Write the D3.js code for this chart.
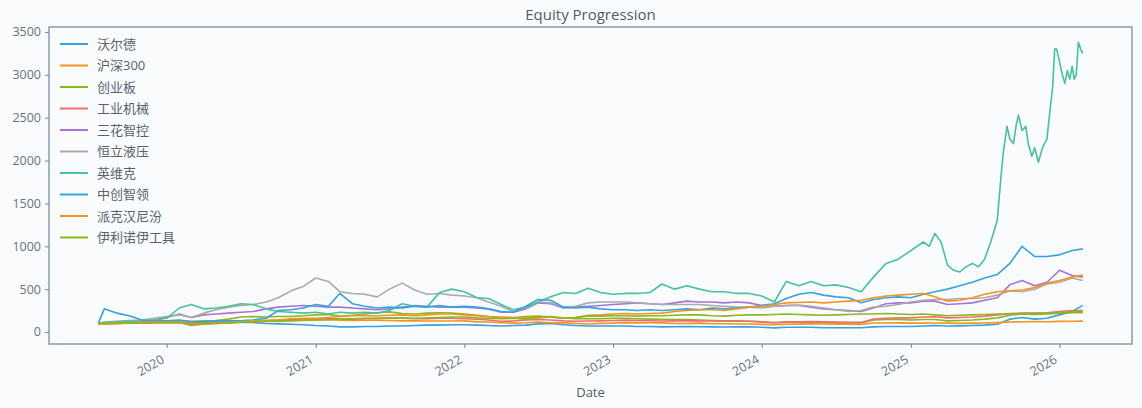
<!DOCTYPE html>
<html><head><meta charset="utf-8">
<script src="https://cdn.jsdelivr.net/npm/d3@7"></script>
<style>
body{margin:0;background:#fafbfc;}
text{font-family:"Open Sans","Noto Sans CJK SC",sans-serif;}
</style>
</head><body>
<svg id="chart" width="1142" height="408"></svg>
<script>
// ---------- DATA ----------
const seriesNames = ["沃尔德","沪深300","创业板","工业机械","三花智控","恒立液压","英维克","中创智领","派克汉尼汾","伊利诺伊工具"];
const seriesColors = ["#35a3dd","#f7931e","#8ab820","#f66b70","#a673d8","#aaaaaa","#47c29b","#35a3dd","#f7931e","#8ab820"];
const yTicks = [0,500,1000,1500,2000,2500,3000,3500];
const xTickYears = ["2020","2021","2022","2023","2024","2025","2026"];

const dates = ["2019-07-17","2019-08-01","2019-09-01","2019-10-01","2019-11-01","2019-12-01",
"2020-01-01","2020-02-01","2020-03-01","2020-04-01","2020-05-01","2020-06-01","2020-07-01","2020-08-01","2020-09-01","2020-10-01","2020-11-01","2020-12-01",
"2021-01-01","2021-02-01","2021-03-01","2021-04-01","2021-05-01","2021-06-01","2021-07-01","2021-08-01","2021-09-01","2021-10-01","2021-11-01","2021-12-01",
"2022-01-01","2022-02-01","2022-03-01","2022-04-01","2022-05-01","2022-06-01","2022-07-01","2022-08-01","2022-09-01","2022-10-01","2022-11-01","2022-12-01",
"2023-01-01","2023-02-01","2023-03-01","2023-04-01","2023-05-01","2023-06-01","2023-07-01","2023-08-01","2023-09-01","2023-10-01","2023-11-01","2023-12-01",
"2024-01-01","2024-02-01","2024-03-01","2024-04-01","2024-05-01","2024-06-01","2024-07-01","2024-08-01","2024-09-01","2024-10-01","2024-11-01","2024-12-01",
"2025-01-01","2025-02-01","2025-03-01","2025-04-01","2025-05-01","2025-06-01","2025-07-01","2025-08-01","2025-09-01","2025-10-01","2025-11-01","2025-12-01",
"2026-01-01","2026-02-01","2026-02-27"];

const wold = [100,105,110,105,110,115,
120,115,100,110,115,110,115,110,100,95,90,85,
75,70,60,60,65,65,70,70,75,80,80,85,
85,80,75,70,75,80,95,100,85,75,70,70,
70,70,65,65,60,62,65,62,60,58,60,62,
55,48,55,55,55,50,50,50,50,60,65,65,
65,70,75,70,72,75,80,90,150,170,150,160,
200,240,310];

const hs300 = [100,97,101,102,102,106,
108,105,97,100,103,105,120,124,122,124,129,135,
142,150,137,136,137,139,135,130,130,129,128,128,
130,118,116,108,103,108,116,108,107,99,94,101,
103,109,107,108,106,100,100,104,97,96,93,93,
89,84,90,92,95,94,92,91,88,105,105,106,
104,103,105,104,101,103,105,109,116,120,122,120,
124,126,127];

const chinext = [100,103,106,108,108,115,
120,135,125,132,135,150,175,180,175,180,180,190,
200,205,185,195,210,225,235,215,210,220,225,220,
210,195,180,160,165,180,185,175,165,155,155,155,
160,160,155,150,148,145,145,140,135,130,130,125,
118,105,115,115,115,110,108,105,105,140,145,145,
140,145,145,130,135,140,150,165,195,210,205,210,
220,225,225];

const machinery = [100,98,100,102,103,108,
112,115,105,110,112,118,130,135,135,140,145,150,
155,160,150,150,155,160,165,160,155,155,160,160,
155,148,140,125,128,140,145,140,130,125,128,130,
135,138,135,132,128,130,133,130,128,125,125,125,
118,110,118,120,122,118,115,112,112,150,160,165,
165,175,178,165,170,175,185,200,215,220,220,225,
240,250,250];

const sanhua = [100,105,110,115,120,140,
170,210,170,200,210,220,230,240,270,290,300,310,
300,290,290,280,270,260,270,290,310,300,290,290,
290,280,270,230,230,270,340,330,280,290,300,310,
320,330,340,330,320,340,360,350,350,340,350,340,
310,300,310,310,290,270,260,250,240,280,330,340,
340,360,360,320,330,340,370,400,550,600,540,580,
720,660,640];

const hengli = [100,115,125,135,140,160,
180,200,170,220,260,290,310,320,350,400,480,530,
630,590,470,450,440,410,500,570,490,440,450,430,
420,400,350,300,240,280,350,340,290,300,340,350,
350,350,340,330,320,320,320,320,310,300,290,290,
280,300,310,315,300,280,260,240,250,290,300,320,
350,370,380,380,390,390,400,430,480,470,500,560,
580,630,600];

// 英维克: monthly through 2024-12, then finer points
const yingweikeDates = dates.slice(0, 66).concat([
"2025-01-01","2025-01-16","2025-02-01","2025-02-15","2025-03-01","2025-03-16","2025-04-01","2025-04-16",
"2025-05-01","2025-05-16","2025-06-01","2025-06-16","2025-07-01","2025-07-16","2025-08-01","2025-08-10",
"2025-08-16","2025-08-25","2025-09-01","2025-09-10","2025-09-16","2025-09-22","2025-10-01","2025-10-10",
"2025-10-16","2025-10-25","2025-11-01","2025-11-10","2025-11-20","2025-12-01","2025-12-10","2025-12-15",
"2025-12-20","2025-12-25","2026-01-01","2026-01-08","2026-01-14","2026-01-20","2026-01-26","2026-02-01",
"2026-02-06","2026-02-11","2026-02-16","2026-02-22","2026-02-27"]);
const yingweike = [100,110,120,125,130,140,
160,280,320,270,280,300,330,320,270,240,230,220,
230,210,230,220,230,220,250,330,300,290,460,500,
470,400,390,320,260,290,350,410,460,450,510,460,
440,450,450,460,560,500,540,500,470,470,450,450,
420,350,590,540,590,540,550,520,470,640,800,850,
950,1000,1050,1000,1150,1050,780,720,
700,760,800,760,850,1050,1300,1800,
2100,2400,2250,2200,2400,2530,2350,2400,
2200,2050,2150,1980,2150,2250,2650,2850,
3300,3300,3150,3000,2900,3050,2950,3100,
2950,3000,3380,3300,3250];

const zhongchuang = [100,270,220,190,140,130,
130,140,120,120,130,130,130,140,160,250,260,280,
320,300,450,330,300,280,290,280,300,290,310,290,
300,290,270,240,230,300,380,370,290,280,290,270,
260,260,250,260,250,260,270,260,280,270,280,290,
310,330,390,440,460,430,410,400,340,380,400,410,
400,440,470,500,540,580,630,670,800,1000,880,880,
900,950,970];

const parker = [100,102,105,108,112,115,
120,110,75,90,100,110,120,130,135,140,155,160,
160,170,180,190,190,190,195,200,190,200,210,210,
200,190,180,175,170,165,175,180,160,170,195,200,
210,215,210,215,220,240,250,260,260,250,270,290,
300,320,340,345,350,340,350,360,370,400,420,430,
440,450,410,360,370,400,440,470,480,490,520,570,
600,640,665];

const itw = [100,98,100,105,110,113,
115,110,85,95,100,105,115,120,125,130,135,140,
140,140,150,155,160,160,160,165,160,165,170,175,
175,165,160,155,160,150,165,175,160,170,185,185,
190,190,185,190,190,195,200,200,190,185,195,200,
200,205,210,205,200,195,200,205,210,210,215,210,
205,210,200,190,195,200,205,210,210,215,215,220,
225,235,235];

const seriesValues = [wold,hs300,chinext,machinery,sanhua,hengli,yingweike,zhongchuang,parker,itw];
const seriesDates = [dates,dates,dates,dates,dates,dates,yingweikeDates,dates,dates,dates];

// ---------- CHART ----------
const W = 1142, H = 408;
const m = {left:49, top:27, right:1132, bottom:344};
const svg = d3.select("#chart");
svg.append("rect").attr("width",W).attr("height",H).attr("fill","#fafbfc");

const parse = d3.utcParse("%Y-%m-%d");
const allDates = dates.map(parse);
const [d0, d1] = d3.extent(allDates);
const pad = (d1 - d0) * 0.05;
const x = d3.scaleUtc().domain([new Date(+d0 - pad), new Date(+d1 + pad)]).range([m.left, m.right]);
const y = d3.scaleLinear().domain([-140, 3558]).range([m.bottom, m.top]);

const axisColor = "#7f8b99";
const tickText = "#66727f";

// lines
const line = d3.line().x(d => x(d[0])).y(d => y(d[1]));
const gLines = svg.append("g");
seriesNames.forEach((name, i) => {
  const pts = seriesValues[i].map((v, j) => [parse(seriesDates[i][j]), v]);
  gLines.append("path").datum(pts)
    .attr("d", line)
    .attr("fill","none")
    .attr("stroke", seriesColors[i])
    .attr("stroke-width", 1.6)
    .attr("stroke-linejoin","round");
});

// spines
svg.append("rect")
  .attr("x", m.left).attr("y", m.top)
  .attr("width", m.right - m.left).attr("height", m.bottom - m.top)
  .attr("fill","none").attr("stroke", axisColor).attr("stroke-width", 1.3);

// y axis
const yAxis = svg.append("g").attr("transform",`translate(${m.left},0)`)
  .call(d3.axisLeft(y).tickValues(yTicks).tickSize(4).tickPadding(4).tickFormat(d3.format("d")));
yAxis.select(".domain").remove();
yAxis.selectAll("line").attr("stroke", axisColor).attr("stroke-width",1.1);
yAxis.selectAll("text").attr("fill", tickText).style("font-size","12.5px");

// x axis
const xTickDates = xTickYears.map(s => parse(s + "-01-01"));
const xAxis = svg.append("g").attr("transform",`translate(0,${m.bottom})`)
  .call(d3.axisBottom(x).tickValues(xTickDates).tickSize(4).tickFormat(d3.utcFormat("%Y")));
xAxis.select(".domain").remove();
xAxis.selectAll("line").attr("stroke", axisColor).attr("stroke-width",1.1);
xAxis.selectAll("text")
  .attr("fill", tickText).style("font-size","12.5px")
  .attr("text-anchor","end")
  .attr("y", 0).attr("dy", 0)
  .attr("transform", "translate(-2,18) rotate(-30)");

// title and label
svg.append("text").attr("x",(m.left+m.right)/2).attr("y",20)
  .attr("text-anchor","middle").attr("fill","#505c6a").style("font-size","15px")
  .text("Equity Progression");
svg.append("text").attr("x",(m.left+m.right)/2).attr("y",397)
  .attr("text-anchor","middle").attr("fill","#505c6a").style("font-size","13px")
  .text("Date");

// legend
const lg = svg.append("g");
seriesNames.forEach((name, i) => {
  const cy = 44 + i * 21.5;
  lg.append("line").attr("x1",60).attr("x2",88).attr("y1",cy).attr("y2",cy)
    .attr("stroke", seriesColors[i]).attr("stroke-width",2);
  lg.append("text").attr("x",97).attr("y",cy).attr("dy","0.35em")
    .attr("fill","#56626f").style("font-size","13px").text(name);
});
</script>
</body></html>
